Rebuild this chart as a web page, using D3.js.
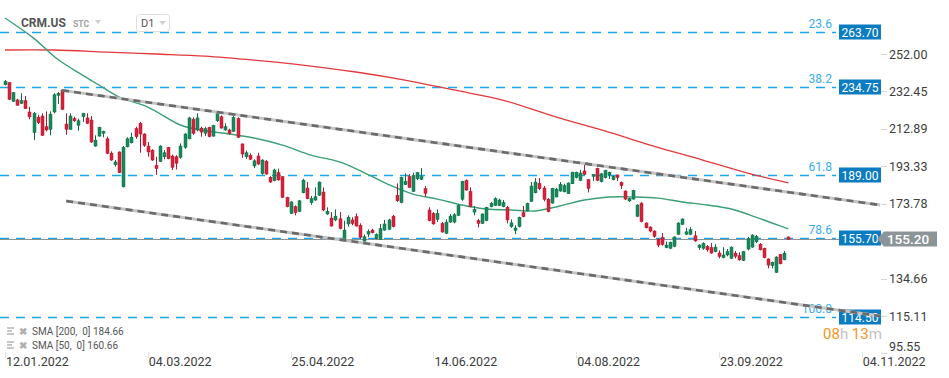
<!DOCTYPE html>
<html>
<head>
<meta charset="utf-8">
<script src="https://cdn.jsdelivr.net/npm/d3@7"></script>
<style>
    body { margin: 0; background: #fff; }
    svg { display: block; font-family: Roboto, "Open Sans", sans-serif; }
</style>
</head>
<body>
<svg id="chart" width="949" height="378"></svg>
<script>
// Daily candles CRM.US, 12.01.2022 onwards (index 0 = 12.01.2022)
const opens = [
    235.9, 237.0, 227.3, 228.0, 226.2, 227.6, 221.7, 210.9, 218.9, 219.6,
    214.0, 212.6, 221.7, 230.4, 233.2, 215.4, 212.6, 218.2, 214.7, 219.2,
    218.6, 217.5, 203.9, 209.1, 210.6, 207.7, 200.1, 194.1, 200.8, 182.6,
    203.5, 205.6, 213.0, 215.8, 210.2, 203.9, 201.8, 193.8, 195.9, 198.3,
    203.2, 198.7, 198.3, 198.0, 203.2, 207.7, 217.9, 212.3, 213.3, 210.6,
    213.7, 209.1, 217.1, 219.2, 212.3, 212.3, 211.6, 218.2, 205.0, 198.3,
    199.1, 193.5, 198.7, 189.6, 195.9, 187.6, 185.8, 190.0, 187.9, 177.1,
    168.7, 172.2, 169.8, 179.5, 182.0, 174.3, 175.7, 178.2, 179.9, 168.4,
    166.3, 165.3, 165.9, 155.2, 163.2, 165.3, 167.0, 162.5, 154.1, 157.9,
    160.0, 155.5, 155.2, 160.0, 160.4, 167.3, 178.2, 174.3, 183.7, 187.9,
    180.2, 186.8, 186.5, 181.6, 170.5, 168.7, 165.6, 163.5, 158.3, 164.2,
    164.2, 167.7, 176.1, 185.8, 180.2, 169.4, 164.9, 163.5, 164.9, 172.2,
    172.9, 172.9, 172.2, 171.9, 161.8, 159.7, 161.8, 169.1, 170.1, 175.0,
    179.5, 184.4, 182.0, 176.2, 174.1, 177.3, 180.4, 180.0, 179.0, 184.2,
    187.4, 186.0, 190.9, 186.3, 188.1, 192.3, 185.3, 187.4, 188.8, 186.3,
    188.8, 185.0, 180.4, 175.2, 176.2, 167.2, 174.1, 163.7, 161.6, 159.5,
    155.0, 156.0, 150.8, 150.5, 151.5, 157.8, 163.0, 157.8, 157.8, 157.0,
    150.8, 150.5, 151.5, 150.8, 148.7, 148.0, 145.6, 147.0, 145.2, 148.0,
    146.6, 144.2, 150.1, 151.1, 153.9, 152.6, 150.5, 144.9, 141.4, 137.9,
    147.3, 144.5, 156.4
];
const highs = [
    238.4, 237.4, 232.1, 228.6, 231.5, 230.0, 224.4, 221.7, 220.3, 221.0,
    222.0, 222.0, 231.5, 232.1, 233.5, 221.0, 221.0, 219.2, 218.2, 221.3,
    221.0, 219.6, 209.5, 214.0, 211.9, 208.8, 201.1, 196.6, 201.1, 203.9,
    208.5, 210.9, 214.0, 216.5, 210.6, 206.0, 202.2, 198.3, 204.3, 201.8,
    203.5, 199.4, 199.1, 205.3, 210.6, 219.2, 218.9, 221.0, 214.0, 214.0,
    214.0, 215.0, 222.0, 220.0, 215.8, 213.0, 220.6, 218.9, 205.3, 201.5,
    200.1, 197.0, 200.4, 197.0, 196.6, 188.2, 192.1, 192.1, 188.2, 177.4,
    175.0, 172.9, 175.7, 186.8, 185.1, 177.8, 182.3, 185.4, 182.3, 171.9,
    169.4, 170.8, 169.4, 164.9, 167.7, 166.7, 168.7, 163.5, 157.6, 160.4,
    160.7, 158.3, 163.2, 165.3, 165.9, 167.9, 184.4, 187.9, 189.6, 189.3,
    190.0, 190.3, 192.4, 183.0, 171.9, 169.4, 170.8, 164.2, 165.6, 168.4,
    168.7, 173.2, 185.8, 186.5, 182.3, 172.6, 165.9, 168.7, 172.2, 174.7,
    177.1, 176.4, 175.7, 172.6, 165.6, 162.5, 167.0, 172.6, 174.3, 185.1,
    187.2, 187.2, 183.0, 176.7, 182.1, 182.1, 185.1, 184.2, 184.9, 190.5,
    190.5, 191.5, 194.0, 186.7, 189.3, 192.6, 189.8, 191.5, 190.5, 188.4,
    189.0, 185.3, 180.8, 176.9, 181.1, 173.5, 174.5, 164.1, 162.0, 159.9,
    155.7, 158.5, 154.0, 154.0, 156.7, 164.1, 166.1, 161.2, 161.6, 159.5,
    152.6, 153.6, 152.2, 153.2, 152.6, 149.4, 151.1, 150.1, 151.5, 149.1,
    148.4, 149.1, 156.4, 157.8, 157.4, 153.2, 150.8, 145.2, 143.5, 146.3,
    147.6, 149.1, 156.7
];
const lows = [
    235.6, 228.0, 226.9, 225.0, 225.9, 223.2, 217.9, 207.1, 215.4, 209.1,
    211.6, 209.5, 221.0, 225.9, 222.7, 209.8, 212.3, 216.5, 211.9, 216.5,
    215.4, 205.6, 203.5, 208.8, 208.5, 199.7, 196.2, 193.1, 189.8, 182.3,
    203.2, 205.3, 207.7, 200.4, 203.5, 198.3, 196.2, 188.9, 195.6, 197.0,
    197.0, 191.4, 191.7, 197.3, 202.5, 207.4, 209.8, 211.6, 208.8, 209.1,
    208.5, 208.8, 216.5, 213.0, 211.9, 209.8, 211.2, 208.1, 197.7, 197.3,
    196.6, 192.4, 194.1, 188.9, 188.9, 184.7, 185.5, 185.8, 176.7, 171.9,
    168.4, 167.7, 169.4, 179.2, 176.1, 173.2, 175.3, 177.8, 169.8, 168.0,
    161.8, 164.6, 160.4, 155.0, 161.8, 162.5, 161.9, 155.5, 153.9, 156.5,
    158.3, 155.2, 155.0, 159.7, 160.0, 161.4, 174.7, 174.0, 183.5, 182.0,
    179.9, 186.1, 186.1, 177.4, 164.6, 162.8, 164.2, 158.6, 157.9, 163.8,
    163.5, 167.3, 175.3, 180.6, 171.9, 167.7, 161.4, 163.2, 164.6, 171.9,
    172.6, 172.6, 171.9, 163.5, 161.1, 157.9, 161.4, 166.7, 169.8, 174.7,
    179.2, 180.9, 175.0, 169.3, 173.8, 177.1, 180.0, 179.7, 178.8, 184.1,
    187.0, 185.6, 188.8, 179.7, 185.6, 185.6, 184.9, 187.0, 186.7, 186.0,
    185.6, 181.4, 175.7, 174.7, 175.9, 166.8, 164.1, 160.9, 158.8, 156.0,
    151.1, 151.8, 150.5, 150.1, 151.1, 157.4, 162.6, 157.4, 157.4, 153.9,
    149.7, 149.7, 148.7, 147.6, 148.4, 145.2, 145.2, 146.3, 144.9, 145.2,
    144.0, 143.8, 149.4, 150.8, 153.2, 149.4, 145.2, 140.0, 140.0, 137.6,
    142.1, 144.2, 155.0
];
const closes = [
    237.7, 228.3, 231.8, 225.2, 227.6, 223.4, 219.2, 221.0, 216.1, 209.5,
    212.3, 220.6, 230.7, 231.5, 223.1, 212.6, 219.6, 217.1, 217.1, 221.0,
    215.8, 206.0, 207.0, 213.7, 211.6, 200.1, 196.6, 195.6, 190.0, 203.2,
    207.7, 208.5, 208.8, 210.2, 204.3, 200.8, 196.6, 192.1, 203.9, 200.4,
    197.3, 192.8, 194.9, 203.9, 210.2, 218.6, 210.6, 218.6, 211.2, 213.0,
    208.8, 214.7, 221.3, 213.3, 214.0, 210.6, 218.9, 208.5, 199.7, 200.4,
    197.0, 196.2, 194.5, 196.6, 189.3, 185.1, 191.4, 186.2, 177.1, 172.2,
    174.7, 169.1, 175.3, 186.1, 176.4, 176.4, 177.4, 185.1, 170.5, 169.8,
    162.1, 167.3, 160.7, 160.0, 166.7, 163.5, 162.1, 156.2, 156.5, 159.3,
    158.6, 157.6, 160.7, 163.2, 165.3, 161.8, 175.3, 187.6, 185.5, 182.3,
    188.6, 190.0, 187.9, 179.2, 164.9, 163.2, 168.7, 159.0, 164.2, 167.3,
    168.0, 172.9, 185.5, 180.9, 172.2, 170.8, 163.5, 168.4, 171.9, 174.0,
    176.4, 175.7, 174.3, 165.3, 163.8, 161.1, 166.7, 167.0, 174.0, 183.0,
    185.1, 181.6, 176.1, 169.6, 181.8, 181.4, 183.9, 183.2, 184.6, 190.2,
    190.2, 189.8, 189.1, 181.8, 189.1, 186.0, 189.4, 191.2, 190.2, 188.1,
    187.4, 183.2, 176.2, 176.6, 180.8, 173.1, 164.4, 161.2, 159.5, 156.7,
    152.2, 152.5, 152.2, 153.6, 156.4, 163.7, 165.8, 159.1, 160.2, 154.3,
    152.2, 152.9, 149.7, 148.0, 151.1, 146.3, 147.0, 148.7, 151.1, 146.3,
    144.4, 148.7, 155.7, 157.4, 156.7, 149.7, 145.6, 141.7, 143.2, 145.9,
    142.4, 148.0, 155.2
];

// SMA lines read at sample candles
const sma200Idx = [0, 12, 25, 37, 49, 61, 73, 86, 98, 110, 122, 135, 147, 159, 171, 182, 192];
const sma200Val = [254.1, 254.1, 253.0, 252.0, 250.9, 248.8, 246.2, 242.6, 238.4, 233.2, 227.9, 219.1, 211.8, 203.9, 196.6, 189.8, 184.66];
const sma50Idx = [0, 7, 13, 19, 23, 28, 35, 43, 48, 55, 61, 68, 75, 82, 88, 94, 100, 106, 112, 118, 124, 130, 136, 142, 148, 154, 160, 166, 172, 178, 184, 188, 192];
const sma50Val = [270.8, 260.3, 249.1, 241.0, 235.8, 229.5, 224.3, 214.9, 212.3, 210.2, 208.1, 204.4, 199.2, 195.6, 190.0, 183.8, 178.8, 176.2, 173.1, 171.0, 170.5, 170.0, 172.6, 175.7, 177.3, 177.3, 176.7, 174.7, 173.1, 171.0, 166.8, 163.7, 160.66];

// Trend channel (index, price)
const upperChannel = [[14, 233.0], [214.5, 173.1]];
const lowerChannel = [[15, 175.2], [214.5, 115.1]];

// Fibonacci levels
const fibLevels = [263.70, 234.75, 189.00, 155.70, 114.50];
const fibRatios = ["23.6", "38.2", "61.8", "78.6", "100.0"];

const lastPrice = 155.20;
const yTicks = [252.00, 232.45, 212.89, 193.33, 173.78, 134.66, 115.11, 95.55];
const dateIdx = [0, 35, 70, 105, 140, 175, 210];
const dateLabels = ["12.01.2022", "04.03.2022", "25.04.2022", "14.06.2022", "04.08.2022", "23.09.2022", "04.11.2022"];
const legendLines = ["SMA [200,  0] 184.66", "SMA [50,  0] 160.66"];

const svg = d3.select("#chart");
const x = d3.scaleLinear().domain([0, 210]).range([5, 861.8]);
const y = d3.scaleLinear().domain([115.11, 252]).range([316, 54]);

const green = "#178a5b", greenDark = "#0f6b45";
const red = "#d8213b", redDark = "#b3172f";
const fibBlue = "#1aa6ea";

// Fib dashed lines
svg.append("g")
    .selectAll("line")
    .data(fibLevels)
    .join("line")
    .attr("x1", 0)
    .attr("x2", 836)
    .attr("y1", d => Math.round(y(d)) + 0.5)
    .attr("y2", d => Math.round(y(d)) + 0.5)
    .attr("stroke", fibBlue)
    .attr("stroke-width", 1.3)
    .attr("stroke-dasharray", "9,7");

// current price line
svg.append("line")
    .attr("x1", 0).attr("x2", 881)
    .attr("y1", Math.round(y(lastPrice)) + 0.5)
    .attr("y2", Math.round(y(lastPrice)) + 0.5)
    .attr("stroke", "#8d9395")
    .attr("stroke-width", 1);

svg.append("g")
    .selectAll("text")
    .data(fibLevels)
    .join("text")
    .attr("x", 832)
    .attr("y", d => y(d) - 4)
    .attr("text-anchor", "end")
    .style("font-size", "12px")
    .style("fill", "#35acef")
    .text((d, i) => fibRatios[i]);

// SMA lines
const smaLine = d3.line().curve(d3.curveCatmullRom);
svg.append("path")
    .attr("d", smaLine(sma200Idx.map((d, i) => [x(d), y(sma200Val[i])])))
    .attr("fill", "none")
    .attr("stroke", "#e2393c")
    .attr("stroke-width", 1.3);
svg.append("path")
    .attr("d", smaLine(sma50Idx.map((d, i) => [x(d), y(sma50Val[i])])))
    .attr("fill", "none")
    .attr("stroke", "#3a9f75")
    .attr("stroke-width", 1.4);

// Candles
const candles = svg.append("g");
opens.forEach((o, i) => {
    const c = closes[i];
    const up = c >= o;
    const cx = Math.round(x(i));
    candles.append("line")
        .attr("x1", cx + 0.5).attr("x2", cx + 0.5)
        .attr("y1", y(highs[i])).attr("y2", y(lows[i]))
        .attr("stroke", up ? greenDark : redDark)
        .attr("stroke-width", 1);
    const top = y(Math.max(o, c));
    const h = Math.max(1, y(Math.min(o, c)) - top);
    candles.append("rect")
        .attr("x", cx - 1)
        .attr("y", top)
        .attr("width", 3)
        .attr("height", h)
        .attr("fill", up ? green : red)
        .attr("stroke", up ? greenDark : redDark)
        .attr("stroke-width", 0.5);
});

// Fib value boxes
const fibBox = svg.append("g")
    .selectAll("g")
    .data(fibLevels)
    .join("g")
    .attr("transform", d => `translate(839, ${Math.round(y(d))})`);
fibBox.append("rect")
    .attr("x", 0).attr("y", -7.5)
    .attr("width", 42).attr("height", 15)
    .attr("fill", "#0b7cc1");
fibBox.append("text")
    .attr("x", 21).attr("y", 4.5)
    .attr("text-anchor", "middle")
    .style("font-size", "12px")
    .style("fill", "#fff")
    .text(d => d.toFixed(2));

// Channel lines
[upperChannel, lowerChannel].forEach(ch => {
    const pts = ch.map(p => [x(p[0]), y(p[1])]);
    svg.append("line")
        .attr("x1", pts[0][0]).attr("y1", pts[0][1])
        .attr("x2", pts[1][0]).attr("y2", pts[1][1])
        .attr("stroke", "#c4c4c4")
        .attr("stroke-width", 3);
    svg.append("line")
        .attr("x1", pts[0][0]).attr("y1", pts[0][1])
        .attr("x2", pts[1][0]).attr("y2", pts[1][1])
        .attr("stroke", "#6a6a6a")
        .attr("stroke-width", 2.6)
        .attr("stroke-dasharray", "7,5");
});

// Y axis
const yAxis = svg.append("g");
yTicks.forEach(v => {
    const ty = Math.min(y(v), 346.5);
    yAxis.append("line")
        .attr("x1", 881).attr("x2", 887)
        .attr("y1", Math.round(y(v)) + 0.5).attr("y2", Math.round(y(v)) + 0.5)
        .attr("stroke", "#d5d5d5");
    yAxis.append("text")
        .attr("x", 889)
        .attr("y", ty + 4.5)
        .style("font-size", "12.5px")
        .style("fill", "#3c3c3c")
        .text(v.toFixed(2));
});

// current price box
const py = Math.round(y(lastPrice));
svg.append("path")
    .attr("d", `M877,${py} L884,${py - 7.5} L937,${py - 7.5} L937,${py + 7.5} L884,${py + 7.5} Z`)
    .attr("fill", "#8b9497");
svg.append("text")
    .attr("x", 908).attr("y", py + 5)
    .attr("text-anchor", "middle")
    .style("font-size", "13.5px")
    .style("font-weight", "500")
    .style("fill", "#fff")
    .text(lastPrice.toFixed(2));

// X axis
const xAxis = svg.append("g");
dateIdx.forEach((d, i) => {
    xAxis.append("line")
        .attr("x1", Math.round(x(d)) + 0.5).attr("x2", Math.round(x(d)) + 0.5)
        .attr("y1", 352).attr("y2", 358)
        .attr("stroke", "#e3e3e3");
    xAxis.append("text")
        .attr("x", x(d) + 1)
        .attr("y", 366)
        .style("font-size", "12.5px")
        .style("fill", "#3c3c3c")
        .text(dateLabels[i]);
});

// countdown
const cd = svg.append("text")
    .attr("x", 823).attr("y", 339)
    .style("font-size", "15px");
cd.append("tspan").style("fill", "#f7941d").text("08");
cd.append("tspan").style("fill", "#c2c2c2").text("h ");
cd.append("tspan").style("fill", "#f7941d").text("13");
cd.append("tspan").style("fill", "#c2c2c2").text("m");

// Legend
legendLines.forEach((t, i) => {
    const ly = 331 + i * 14;
    const g = svg.append("g").attr("transform", `translate(0, ${ly})`);
    [-3, 0, 3].forEach(dy => {
        g.append("rect")
            .attr("x", 7).attr("y", dy - 0.8)
            .attr("width", dy === 0 ? 5 : 7).attr("height", 1.6)
            .attr("fill", "#b8b8b8");
    });
    g.append("text")
        .attr("x", 19).attr("y", 3.5)
        .style("font-size", "10px")
        .style("font-weight", "bold")
        .style("fill", "#b0b0b0")
        .text("✖");
    g.append("text")
        .attr("x", 32).attr("y", 3.5)
        .style("font-size", "10px")
        .style("white-space", "pre")
        .style("fill", "#555")
        .text(t);
});

// Header
svg.append("text")
    .attr("x", 21).attr("y", 27)
    .style("font-size", "12px")
    .style("font-weight", "bold")
    .style("fill", "#555")
    .text("CRM.US");
svg.append("text")
    .attr("x", 73).attr("y", 27)
    .style("font-size", "8.5px")
    .style("font-weight", "bold")
    .style("fill", "#a0a0a0")
    .text("STC");
svg.append("path").attr("d", "M95,20 L101,20 L98,24 Z").attr("fill", "#cfcfcf");
svg.append("rect")
    .attr("x", 136.5).attr("y", 14.5)
    .attr("width", 33).attr("height", 17).attr("rx", 3)
    .attr("fill", "#fff").attr("stroke", "#dedede");
svg.append("text")
    .attr("x", 141).attr("y", 27)
    .style("font-size", "11px")
    .style("fill", "#555")
    .text("D1");
svg.append("path").attr("d", "M159,21 L166,21 L162.5,25 Z").attr("fill", "#cfcfcf");
</script>
</body>
</html>
